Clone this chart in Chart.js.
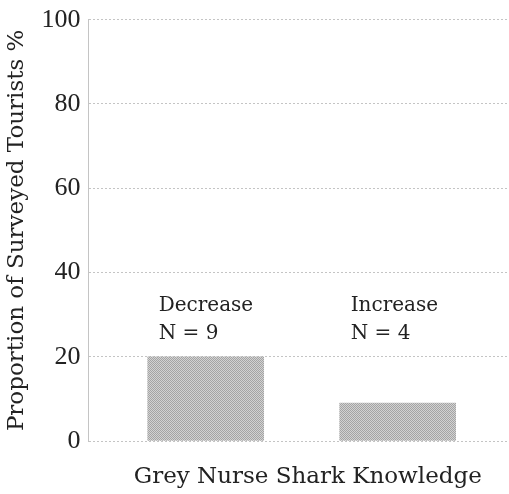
<!DOCTYPE html>
<html>
<head>
<meta charset="utf-8">
<script src="https://cdn.jsdelivr.net/npm/chart.js@4"></script>
<style>
  html, body { margin: 0; padding: 0; background: #fff; }
  #wrap { width: 509px; height: 494px; }
</style>
</head>
<body>
<div id="wrap"><canvas id="SharkChart"></canvas></div>
<script>
var categories = ['Decrease', 'Increase'];
var counts = [9, 4];
var positions = [1, 2];
var proportions = [20, 9];
var yTicks = [0, 20, 40, 60, 80, 100];
var xTitle = 'Grey Nurse Shark Knowledge';

var serif = '"DejaVu Serif", "Liberation Serif", serif';
var tickSerif = '"Liberation Serif", serif';

// stippled grey fill like the printed figure
function stipple(){
  var c = document.createElement('canvas');
  c.width = 2; c.height = 2;
  var g = c.getContext('2d');
  g.fillStyle = '#d2d2d2'; g.fillRect(0, 0, 2, 2);
  g.fillStyle = '#a4a4a4'; g.fillRect(0, 0, 1, 1); g.fillRect(1, 1, 1, 1);
  return g.createPattern(c, 'repeat');
}

// text above each bar (category name and N) and the x axis title
const barText = {
  id: 'barText',
  afterDatasetsDraw(chart) {
    const ctx = chart.ctx;
    const x = chart.scales.x, y = chart.scales.y;
    const area = chart.chartArea;
    ctx.save();
    ctx.fillStyle = '#222';
    ctx.font = '20px ' + serif;
    ctx.textAlign = 'left';
    ctx.textBaseline = 'middle';
    for (let i = 0; i < categories.length; ++i) {
      const px = x.getPixelForValue(positions[i]) - 47;
      ctx.fillText(categories[i], px, y.getPixelForValue(32));
      ctx.fillText('N = ' + counts[i], px, y.getPixelForValue(25.5));
    }
    ctx.font = '23px ' + serif;
    ctx.textAlign = 'center';
    ctx.fillText(xTitle, (area.left + area.right) / 2 + 9, area.bottom + 36);
    ctx.restore();
  }
};

const data = {
  datasets: [{
    data: positions.map(function(p, i){ return {x: p, y: proportions[i]}; }),
    backgroundColor: stipple(),
    borderWidth: 0,
    barThickness: 116
  }]
};

const option = {
  responsive: true,
  maintainAspectRatio: false,
  animation: false,
  layout: { padding: { top: 0, right: 0, bottom: 53, left: 3 } },
  plugins: { legend: { display: false }, tooltip: { enabled: false } },
  scales: {
    x: {
      type: 'linear',
      min: 0.39,
      max: 2.58,
      offset: false,
      ticks: { display: false },
      grid: { display: false, drawTicks: false },
      border: { display: false }
    },
    y: {
      min: 0,
      max: 100,
      afterBuildTicks: function(axis){ axis.ticks = yTicks.map(function(v){ return {value: v}; }); },
      ticks: { color: '#222', font: { family: tickSerif, size: 26, lineHeight: 0.9 }, padding: 8 },
      grid: { color: '#c4c4c4', drawTicks: false, lineWidth: 1 },
      border: { color: '#c4c4c4', dash: [2, 2] },
      title: {
        display: true,
        text: 'Proportion of Surveyed Tourists %',
        color: '#222',
        font: { family: serif, size: 23 },
        padding: { top: 0, bottom: 3 }
      }
    }
  }
};

new Chart(document.getElementById('SharkChart'), {
  type: 'bar',
  data: data,
  options: option,
  plugins: [barText]
});
</script>
</body>
</html>
